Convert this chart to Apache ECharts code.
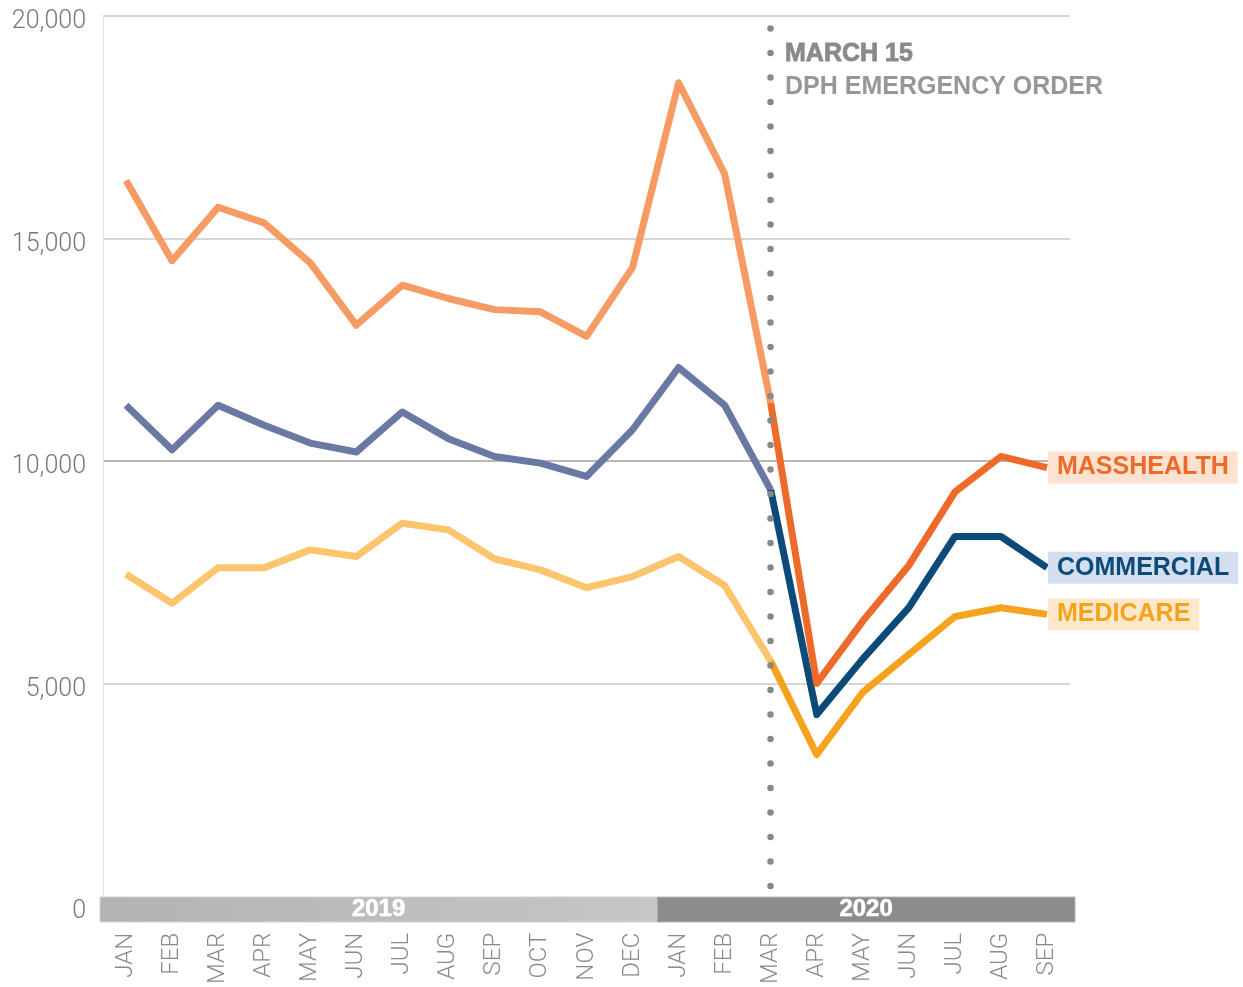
<!DOCTYPE html>
<html>
<head>
<meta charset="utf-8">
<script src="https://cdn.jsdelivr.net/npm/echarts@6/dist/echarts.min.js"></script>
<style>
  html, body { margin: 0; padding: 0; background: #fff; }
  #chart { width: 1243px; height: 987px; }
</style>
</head>
<body>
<div id="chart"></div>
<script>
// months, Jan 2019 .. Sep 2020
const months = ['JAN', 'FEB', 'MAR', 'APR', 'MAY', 'JUN', 'JUL', 'AUG', 'SEP', 'OCT', 'NOV', 'DEC',
  'JAN', 'FEB', 'MAR', 'APR', 'MAY', 'JUN', 'JUL', 'AUG', 'SEP']
const years = ['2019', '2020']
const yTicks = [0, 5000, 10000, 15000, 20000]

const masshealth = [16300, 14500, 15700, 15350, 14450, 13050, 13950, 13650, 13400, 13350, 12800, 14350,
  18500, 16450, 11300, 5000, 6400, 7650, 9300, 10100, 9850]
const commercial = [11250, 10250, 11250, 10800, 10400, 10200, 11100, 10500, 10100, 9950, 9650, 10700,
  12100, 11250, 9350, 4300, 5550, 6700, 8300, 8300, 7600]
const medicare = [7450, 6800, 7600, 7600, 8000, 7850, 8600, 8450, 7800, 7550, 7150, 7400,
  7850, 7200, 5500, 3400, 4800, 5650, 6500, 6700, 6550]

// index of MAR 2020 (DPH emergency order)
const orderIndex = 14

const before = arr => arr.map((v, i) => (i <= orderIndex ? v : null))
const after = arr => arr.map((v, i) => (i >= orderIndex ? v : null))

const chart = echarts.init(document.getElementById('chart'))

const lightFont = 'Roboto'
const boldFont = 'Liberation Sans'

function beforeLine(name, data, color) {
  return {
    name: name,
    type: 'line',
    data: before(data),
    symbol: 'none',
    xAxisIndex: 0,
    yAxisIndex: 0,
    lineStyle: { color: color, width: 7, join: 'round' },
    itemStyle: { color: color },
    z: 3
  }
}

function afterLine(name, data, color, bg) {
  return {
    name: name,
    type: 'line',
    data: after(data),
    symbol: 'none',
    xAxisIndex: 0,
    yAxisIndex: 0,
    lineStyle: { color: color, width: 7, join: 'round' },
    itemStyle: { color: color },
    z: 4,
    endLabel: {
      show: true,
      formatter: name,
      distance: 1,
      color: color,
      backgroundColor: bg,
      fontFamily: boldFont,
      fontWeight: 'bold',
      fontSize: 25,
      lineHeight: 25,
      padding: [4, 9, 3, 9]
    }
  }
}

const option = {
  animation: false,
  title: {
    text: 'MARCH 15',
    subtext: 'DPH EMERGENCY ORDER',
    left: 785,
    top: 42,
    padding: 0,
    itemGap: 7,
    textStyle: { color: '#8a8a8a', fontFamily: boldFont, fontWeight: 'bold', fontSize: 25, textBorderColor: '#8a8a8a', textBorderWidth: 0.8 },
    subtextStyle: { color: '#979797', fontFamily: boldFont, fontWeight: 'bold', fontSize: 25 }
  },
  grid: [
    { left: 103, right: 173, top: 16, bottom: 77 },
    { left: 100, width: 975, top: 897, height: 25 }
  ],
  xAxis: [
    {
      type: 'category',
      gridIndex: 0,
      data: months,
      boundaryGap: true,
      axisLine: { show: false },
      axisTick: { show: false },
      axisLabel: {
        rotate: 90,
        margin: 27,
        color: '#8a8a8a',
        fontFamily: lightFont,
        fontWeight: 300,
        fontSize: 24
      }
    },
    { type: 'value', gridIndex: 1, min: 0, max: 21, show: false }
  ],
  yAxis: [
    {
      type: 'value',
      gridIndex: 0,
      min: yTicks[0],
      max: yTicks[yTicks.length - 1],
      interval: 5000,
      axisLine: { show: true, lineStyle: { color: '#e6e6e6', width: 1 } },
      axisTick: { show: false },
      axisLabel: {
        margin: 17,
        formatter: v => '{v|' + v.toLocaleString('en-US') + '}',
        rich: {
          v: {
            color: '#777777',
            fontFamily: lightFont,
            fontWeight: 300,
            fontSize: 25,
            padding: [12, 0, 0, 0]
          }
        }
      },
      splitLine: {
        lineStyle: { color: ['#dddddd', '#c8c8c8', '#a0a0a0', '#c8c8c8', '#cccccc'], width: 1.5 }
      }
    },
    { type: 'value', gridIndex: 1, min: 0, max: 1, show: false }
  ],
  series: [
    beforeLine('MEDICARE', medicare, '#fcc46c'),
    beforeLine('COMMERCIAL', commercial, '#6a79a4'),
    beforeLine('MASSHEALTH', masshealth, '#f59b63'),
    afterLine('MEDICARE', medicare, '#f5a31d', '#fde8cc'),
    afterLine('COMMERCIAL', commercial, '#0c4a79', '#d3deef'),
    afterLine('MASSHEALTH', masshealth, '#ee6a2b', '#fde2d0'),
    {
      // dotted marker for the emergency order
      type: 'line',
      xAxisIndex: 0,
      yAxisIndex: 0,
      data: [],
      symbol: 'none',
      silent: true,
      z: 5,
      markLine: {
        symbol: ['none', 'none'],
        silent: true,
        label: { show: false },
        lineStyle: { color: '#888888', width: 6.5, type: [0.1, 24.4], cap: 'round' },
        data: [[{ coord: [orderIndex, 19720] }, { coord: [orderIndex, 0] }]]
      }
    },
    {
      // year band below the axis
      type: 'line',
      xAxisIndex: 1,
      yAxisIndex: 1,
      data: [[0, 0]],
      symbol: 'none',
      lineStyle: { opacity: 0 },
      silent: true,
      z: 8,
      markArea: {
        silent: true,
        label: {
          show: true,
          position: 'inside',
          color: '#fff',
          fontFamily: boldFont,
          fontWeight: 'bold',
          fontSize: 24,
          textBorderColor: '#fff',
          textBorderWidth: 0.6
        },
        data: [
          [
            {
              name: years[0],
              xAxis: 0,
              yAxis: 0,
              itemStyle: {
                color: new echarts.graphic.LinearGradient(0, 0, 1, 0, [
                  { offset: 0, color: '#b3b3b3' },
                  { offset: 1, color: '#c6c6c6' }
                ]),
                borderColor: '#d2d2d2',
                borderWidth: 1
              }
            },
            { xAxis: 12, yAxis: 1 }
          ],
          [
            { name: years[1], xAxis: 12, yAxis: 0, itemStyle: { color: '#8c8c8c', borderColor: '#b8b8b8', borderWidth: 1 } },
            { xAxis: 21, yAxis: 1 }
          ]
        ]
      }
    }
  ]
}

chart.setOption(option)
</script>
</body>
</html>
